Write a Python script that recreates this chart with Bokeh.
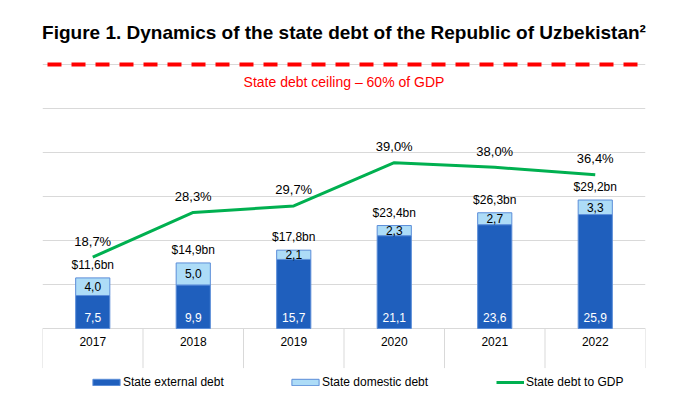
from bokeh.plotting import figure
from bokeh.models import (ColumnDataSource, FactorRange, Range1d, LabelSet, Label,
                          Legend, LegendItem, FixedTicker)
from bokeh.core.properties import value
from bokeh.embed import file_html
from bokeh.resources import INLINE

# ---- data ----
years = ["2017", "2018", "2019", "2020", "2021", "2022"]
external = [7.5, 9.9, 15.7, 21.1, 23.6, 25.9]
domestic = [4.0, 5.0, 2.1, 2.3, 2.7, 3.3]
totals = [11.6, 14.9, 17.8, 23.4, 26.3, 29.2]
debt_to_gdp = [18.7, 28.3, 29.7, 39.0, 38.0, 36.4]
ceiling = 60
grid_ticks = [0, 10, 20, 30, 40, 50, 60]

FONT = "Liberation Sans"
DARK = "#1F5FBD"
LIGHT = "#ADDCF7"
EDGE = "#5B8DD8"
GREEN = "#00B050"
RED = "#FF0000"
GRID = "#D9D9D9"


def fmt(v):
    return f"{v:.1f}".replace(".", ",")


src = ColumnDataSource(dict(
    year=years,
    ext=external,
    dom=domestic,
    top=[e + d for e, d in zip(external, domestic)],
    dom_mid=[e + d / 2 for e, d in zip(external, domestic)],
    ext_lbl=[fmt(v) for v in external],
    dom_lbl=[fmt(v) for v in domestic],
    tot_lbl=[f"${fmt(v)}bn" for v in totals],
    pct=debt_to_gdp,
    pct_lbl=[f"{fmt(v)}%" for v in debt_to_gdp],
))

p = figure(width=672, height=392, output_backend="svg", toolbar_location=None,
           x_range=FactorRange(factors=years, range_padding=0),
           y_range=Range1d(-14.545, 63.18),
           x_axis_location=None, y_axis_location=None,
           min_border_left=42, min_border_right=27, min_border_top=50, min_border_bottom=0)
p.extra_y_ranges = {"pct": Range1d(-10.38, 63.11)}
p.outline_line_color = None
p.background_fill_color = "white"
p.border_fill_color = "white"

p.title.text = "Figure 1. Dynamics of the state debt of the Republic of Uzbekistan\u00b2"
p.title.align = "center"
p.title.text_font = FONT
p.title.text_font_size = "19px"
p.title.text_font_style = "bold"
p.title.text_color = "black"
p.title.standoff = 16

p.xgrid.visible = False
p.ygrid.ticker = FixedTicker(ticks=grid_ticks)
p.ygrid.grid_line_color = GRID
p.ygrid.grid_line_width = 1

# table lines under the categories
bounds = list(range(len(years) + 1))
p.segment(x0=bounds, y0=[0] * len(bounds), x1=bounds, y1=[-9] * len(bounds),
          line_color=GRID, line_width=1)

# ceiling
p.hspan(y=[ceiling], y_range_name="pct", line_color=RED, line_width=4,
        line_dash="14 10", line_dash_offset=19)
p.add_layout(Label(x=len(years) / 2, y=ceiling, y_range_name="pct", y_offset=-17,
                   text="State debt ceiling \u2013 60% of GDP", text_align="center",
                   text_baseline="middle", text_font=FONT, text_font_size="14px",
                   text_color=RED))

# bars
bars = p.vbar_stack(["ext", "dom"], x="year", width=0.34, source=src,
                    fill_color=[DARK, LIGHT], line_color=EDGE, line_width=1)

# line
ln = p.line(x="year", y="pct", source=src, y_range_name="pct",
            line_color=GREEN, line_width=3)

# labels
common = dict(source=src, text_align="center", text_baseline="middle",
              text_font=value(FONT))
p.add_layout(LabelSet(x="year", y=0, text="ext_lbl", y_offset=11,
                      text_font_size="12px", text_color="white", **common))
p.add_layout(LabelSet(x="year", y="dom_mid", text="dom_lbl",
                      text_font_size="12px", text_color="black", **common))
p.add_layout(LabelSet(x="year", y="top", text="tot_lbl", y_offset=13,
                      text_font_size="12px", text_color="black", **common))
p.add_layout(LabelSet(x="year", y="pct", y_range_name="pct", text="pct_lbl", y_offset=16,
                      text_font_size="13px", text_color="black", **common))
p.add_layout(LabelSet(x="year", y=0, text="year", y_offset=-13,
                      text_font_size="12px", text_color="black", **common))


def add_legend(label, renderer, x, gw, standoff):
    lg = Legend(items=[LegendItem(label=label, renderers=[renderer])],
                orientation="horizontal", location=(x, 3), padding=0, margin=0,
                glyph_width=gw, glyph_height=8, label_standoff=standoff, label_height=10,
                label_text_font=FONT, label_text_font_size="12px", label_text_color="black",
                border_line_color=None, background_fill_alpha=0)
    p.add_layout(lg, "center")


add_legend("State external debt", bars[0], 47, 34, 0)
add_legend("State domestic debt", bars[1], 246, 34, 0)
add_legend("State debt to GDP", ln, 454, 28, 2)

open("out.html", "w").write(file_html(p, INLINE))
